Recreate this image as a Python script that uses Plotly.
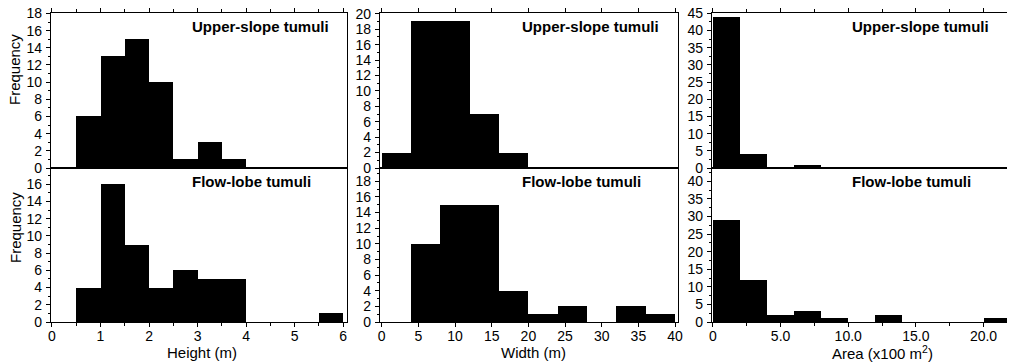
import plotly.graph_objects as go

# ---------------- data ----------------
height_bins = [0.0, 0.5, 1.0, 1.5, 2.0, 2.5, 3.0, 3.5, 4.0, 4.5, 5.0, 5.5]
height_upper = [0, 6, 13, 15, 10, 1, 3, 1, 0, 0, 0, 0]
height_lower = [0, 4, 16, 9, 4, 6, 5, 5, 0, 0, 0, 1]

width_bins = [0, 4, 8, 12, 16, 20, 24, 28, 32, 36]
width_upper = [2, 19, 19, 7, 2, 0, 0, 0, 0, 0]
width_lower = [0, 10, 15, 15, 4, 1, 2, 0, 2, 1]

area_bins = [0, 2, 4, 6, 8, 10, 12, 14, 16, 18, 20]
area_upper = [44, 4, 0, 1, 0, 0, 0, 0, 0, 0, 0]
area_lower = [29, 12, 2, 3, 1, 0, 2, 0, 0, 0, 1]

area_tickvals = [0, 5, 10, 15, 20]
area_ticktext = ["0", "5.0", "10.0", "15.0", "20.0"]

upper_label = "Upper-slope tumuli"
lower_label = "Flow-lobe tumuli"
x_titles = ["Height (m)", "Width (m)", "Area (x100 m<sup>2</sup>)"]
y_title = "Frequency"

# ---------------- layout helpers ----------------
W, H = 1015, 363
OFF = 8  # page body margin
FONT = "Liberation Sans, Arial, sans-serif"


def px(x):
    return min(max((x - OFF) / W, 0.0), 1.0)


def py(y):
    return min(max(1 - (y - OFF) / H, 0.0), 1.0)


fig = go.Figure()

cols = [
    dict(bins=height_bins, bw=0.5, up=height_upper, lo=height_lower,
         xdom=(51, 347), xr=[-0.02, 6.08], dtick=1, minor=0.5,
         yup=[0, 18.05], ylo=[0, 17.9], ydt=2, yminor=1, lab_x=190, tx=202),
    dict(bins=width_bins, bw=4, up=width_upper, lo=width_lower,
         xdom=(380, 678), xr=[-0.23, 40.4], dtick=5, minor=None,
         yup=[0, 20.1], ylo=[0, 19.7], ydt=2, yminor=1, lab_x=520, tx=533),
    dict(bins=area_bins, bw=2, up=area_upper, lo=area_lower,
         xdom=(712, 1016), xr=[-0.07, 22.4], dtick=5, minor=2.5,
         yup=[0, 45.1], ylo=[0, 43.8], ydt=5, yminor=2.5, lab_x=850, tx=882),
]

ROW_UP = (13, 168)
ROW_LO = (168, 322)

ax_i = 0
for ci, c in enumerate(cols):
    for ri, (vals, rowdom) in enumerate([(c["up"], ROW_UP), (c["lo"], ROW_LO)]):
        ax_i += 1
        xa = "x" if ax_i == 1 else f"x{ax_i}"
        ya = "y" if ax_i == 1 else f"y{ax_i}"
        xkey = "xaxis" if ax_i == 1 else f"xaxis{ax_i}"
        ykey = "yaxis" if ax_i == 1 else f"yaxis{ax_i}"
        fig.add_trace(go.Bar(
            x=[b + c["bw"] / 2 for b in c["bins"]], y=vals, width=c["bw"],
            marker=dict(color="black", line=dict(width=0)),
            xaxis=xa, yaxis=ya, showlegend=False, hoverinfo="x+y"))

        is_upper = ri == 0
        xaxis = dict(
            domain=[px(c["xdom"][0]), px(c["xdom"][1])],
            range=c["xr"], anchor=ya, automargin=False,
            side="top" if is_upper else "bottom",
            showline=True, linecolor="black", linewidth=1.2, mirror=True,
            showgrid=False, zeroline=False,
            ticks="outside", ticklen=4, tickcolor="black", tickwidth=1,
            showticklabels=not is_upper, ticklabelstandoff=-3,
            tickfont=dict(family=FONT, size=14, color="black"),
        )
        if ci == 2:
            xaxis.update(tickmode="array", tickvals=area_tickvals,
                         ticktext=area_ticktext)
        else:
            xaxis.update(tick0=0, dtick=c["dtick"])
        if c["minor"]:
            xaxis["minor"] = dict(dtick=c["minor"], ticks="outside",
                                  ticklen=3, tickcolor="black", showgrid=False)
        fig.layout[xkey] = xaxis

        yaxis = dict(
            domain=[py(rowdom[1]), py(rowdom[0])],
            range=c["yup"] if is_upper else c["ylo"], anchor=xa,
            automargin=False, ticklabeloverflow="allow",
            showline=True, linecolor="black", linewidth=1.2, mirror=True,
            showgrid=False, zeroline=False,
            ticks="outside", ticklen=4, tickcolor="black", tickwidth=1,
            tick0=0, dtick=c["ydt"],
            minor=dict(dtick=c["yminor"], ticks="outside", ticklen=2,
                       tickcolor="black", showgrid=False),
            tickfont=dict(family=FONT, size=14, color="black"),
            ticklabelstandoff=1,
        )
        fig.layout[ykey] = yaxis

        fig.add_annotation(
            text=f"<b>{upper_label if is_upper else lower_label}</b>",
            x=px(c["lab_x"]), y=py(27 if is_upper else 182),
            xref="paper", yref="paper", xanchor="left", yanchor="middle",
            showarrow=False, font=dict(family=FONT, size=15, color="black"))

    # x title
    fig.add_annotation(
        text=x_titles[ci], x=px(c["tx"]),
        y=py(352), xref="paper", yref="paper", xanchor="center",
        yanchor="middle", showarrow=False,
        font=dict(family=FONT, size=15, color="black"))

# Frequency labels
for yc in (70, 228):
    fig.add_annotation(text=y_title, x=px(15), y=py(yc), xref="paper",
                       yref="paper", textangle=-90, xanchor="center",
                       yanchor="middle", showarrow=False,
                       font=dict(family=FONT, size=15, color="black"))

fig.update_layout(
    template="none",
    width=W, height=H, margin=dict(l=0, r=0, t=0, b=0, pad=0),
    paper_bgcolor="white", plot_bgcolor="white", bargap=0,
    font=dict(family=FONT, size=14, color="black"),
)

fig.write_html("out.html")
